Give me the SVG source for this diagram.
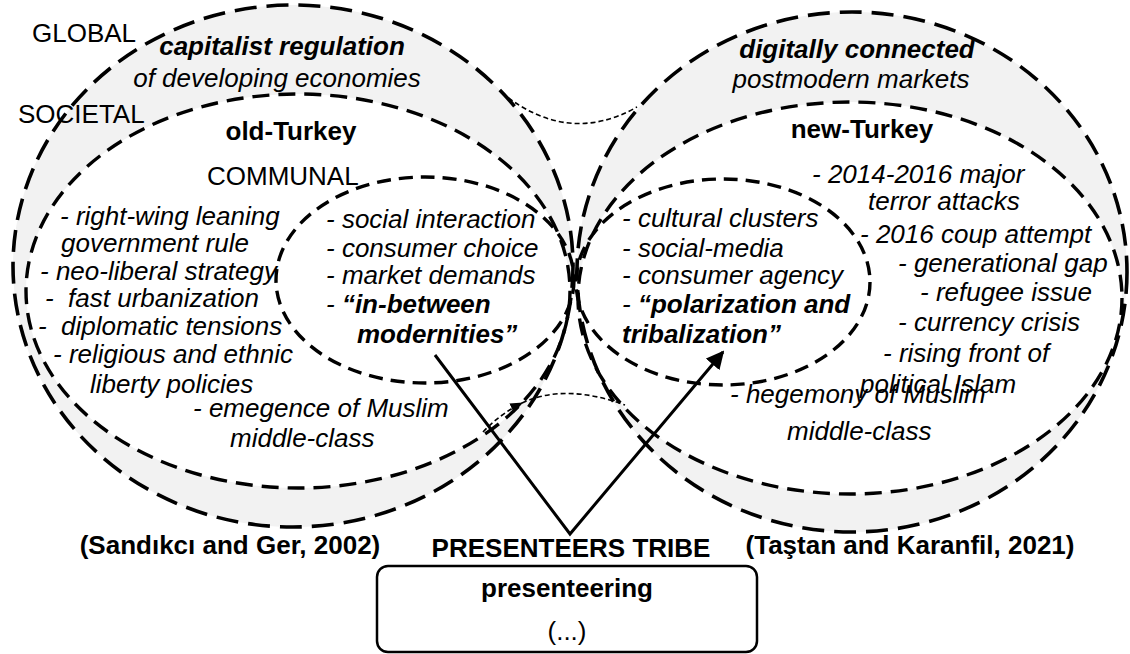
<svg xmlns="http://www.w3.org/2000/svg" width="1130" height="654" viewBox="0 0 1130 654">
<defs>
<style>
.t{font-family:"Liberation Sans",Arial,Helvetica,sans-serif;font-size:26px;fill:#000}
.i{font-style:italic}
.b{font-weight:bold}
.m{text-anchor:middle}
.pre{white-space:pre}
.fg{fill:#f2f2f2;stroke:none}
.fw{fill:#fff;stroke:none}
.so{fill:none;stroke:#000;stroke-width:3.6;stroke-dasharray:22 10}
.sm{fill:none;stroke:#000;stroke-width:3.4;stroke-dasharray:17 9}
.si{fill:none;stroke:#000;stroke-width:3.4;stroke-dasharray:14 8}
.thin{fill:none;stroke:#000;stroke-width:1.6;stroke-dasharray:5 3}
.ln{fill:none;stroke:#000;stroke-width:3}
</style>
<marker id="ah" viewBox="0 0 10 10" refX="9" refY="5" markerWidth="6" markerHeight="6" markerUnits="strokeWidth" orient="auto">
<path d="M0,0 L10,5 L0,10 z" fill="#000"/>
</marker>
<marker id="ahs" viewBox="0 0 10 10" refX="9" refY="5" markerWidth="8" markerHeight="8" markerUnits="strokeWidth" orient="auto">
<path d="M0,1 L10,5 L0,9 z" fill="#000"/>
</marker>
</defs>
<rect width="1130" height="654" fill="#fff"/>

<g id="fills">
<ellipse class="fg" cx="293" cy="266" rx="280" ry="261"/>
<ellipse class="fg" cx="852" cy="272" rx="275" ry="260"/>
<ellipse class="fw" cx="298" cy="291" rx="272" ry="197"/>
<ellipse class="fw" cx="850" cy="298" rx="272" ry="196"/>
</g>

<g id="connectors">
<path class="thin" d="M502,93 Q568,146 637,107"/>
<path class="thin" d="M483,432 Q500,414 522,403" marker-end="url(#ahs)"/>
<path class="thin" d="M522,403 Q565,383 625,405"/>
<path class="ln" d="M435,355 L570,534 L723,352" marker-end="url(#ah)"/>
</g>

<g id="global-old">
<ellipse class="so" cx="293" cy="266" rx="280" ry="261"/>
<text class="t" x="32" y="42">GLOBAL</text>
<text class="t i b m" x="282" y="55">capitalist regulation</text>
<text class="t i m" x="277" y="87">of developing economies</text>
</g>

<g id="societal-old">
<ellipse class="sm" cx="298" cy="291" rx="272" ry="197"/>
<text class="t" x="18" y="123">SOCIETAL</text>
<text class="t b m" x="291" y="140">old-Turkey</text>
<text class="t i" x="60" y="225">- right-wing leaning</text>
<text class="t i" x="61" y="252">government rule</text>
<text class="t i" x="40" y="280">- neo-liberal strategy</text>
<text class="t i pre" x="45" y="307">-  fast urbanization</text>
<text class="t i pre" x="38" y="335">-  diplomatic tensions</text>
<text class="t i" x="53" y="363">- religious and ethnic</text>
<text class="t i" x="90" y="393">liberty policies</text>
<text class="t i" x="193" y="417">- emegence of Muslim</text>
<text class="t i" x="230" y="447">middle-class</text>
</g>

<g id="communal-old">
<ellipse class="si" cx="425" cy="280" rx="149" ry="103"/>
<text class="t" x="207" y="185">COMMUNAL</text>
<text class="t i" x="326" y="228">- social interaction</text>
<text class="t i" x="326" y="257">- consumer choice</text>
<text class="t i" x="326" y="284">- market demands</text>
<text class="t i" x="326" y="313">- <tspan class="b">“in-between</tspan></text>
<text class="t i b" x="357" y="343">modernities”</text>
</g>

<g id="global-new">
<ellipse class="so" cx="852" cy="272" rx="275" ry="260"/>
<text class="t i b m" x="857" y="58">digitally connected</text>
<text class="t i m" x="851" y="88">postmodern markets</text>
</g>

<g id="societal-new">
<ellipse class="sm" cx="850" cy="298" rx="272" ry="196"/>
<text class="t b m" x="862" y="138">new-Turkey</text>
<text class="t i" x="812" y="183">- 2014-2016 major</text>
<text class="t i" x="868" y="210">terror attacks</text>
<text class="t i" x="860" y="243">- 2016 coup attempt</text>
<text class="t i" x="898" y="272">- generational gap</text>
<text class="t i" x="920" y="301">- refugee issue</text>
<text class="t i" x="898" y="331">- currency crisis</text>
<text class="t i" x="883" y="362">- rising front of</text>
<text class="t i" x="860" y="393">political Islam</text>
<text class="t i" x="730" y="403">- hegemony of Muslim</text>
<text class="t i" x="787" y="440">middle-class</text>
</g>

<g id="communal-new">
<ellipse class="si" cx="723" cy="282" rx="147" ry="103"/>
<text class="t i" x="622" y="227">- cultural clusters</text>
<text class="t i" x="622" y="257">- social-media</text>
<text class="t i" x="622" y="284">- consumer agency</text>
<text class="t i" x="622" y="313">- <tspan class="b">“polarization and</tspan></text>
<text class="t i b" x="622" y="343">tribalization”</text>
</g>

<g id="citations">
<text class="t b m" x="230" y="554">(Sandıkcı and Ger, 2002)</text>
<text class="t b m" x="910" y="554">(Taştan and Karanfil, 2021)</text>
</g>

<g id="presenteers-tribe">
<text class="t b m" x="571" y="557">PRESENTEERS TRIBE</text>
<rect x="377" y="566" width="380" height="86" rx="11" ry="11" fill="#fff" stroke="#000" stroke-width="2.5"/>
<text class="t b m" x="567" y="597">presenteering</text>
<text class="t m" x="567" y="640">(...)</text>
</g>
</svg>
